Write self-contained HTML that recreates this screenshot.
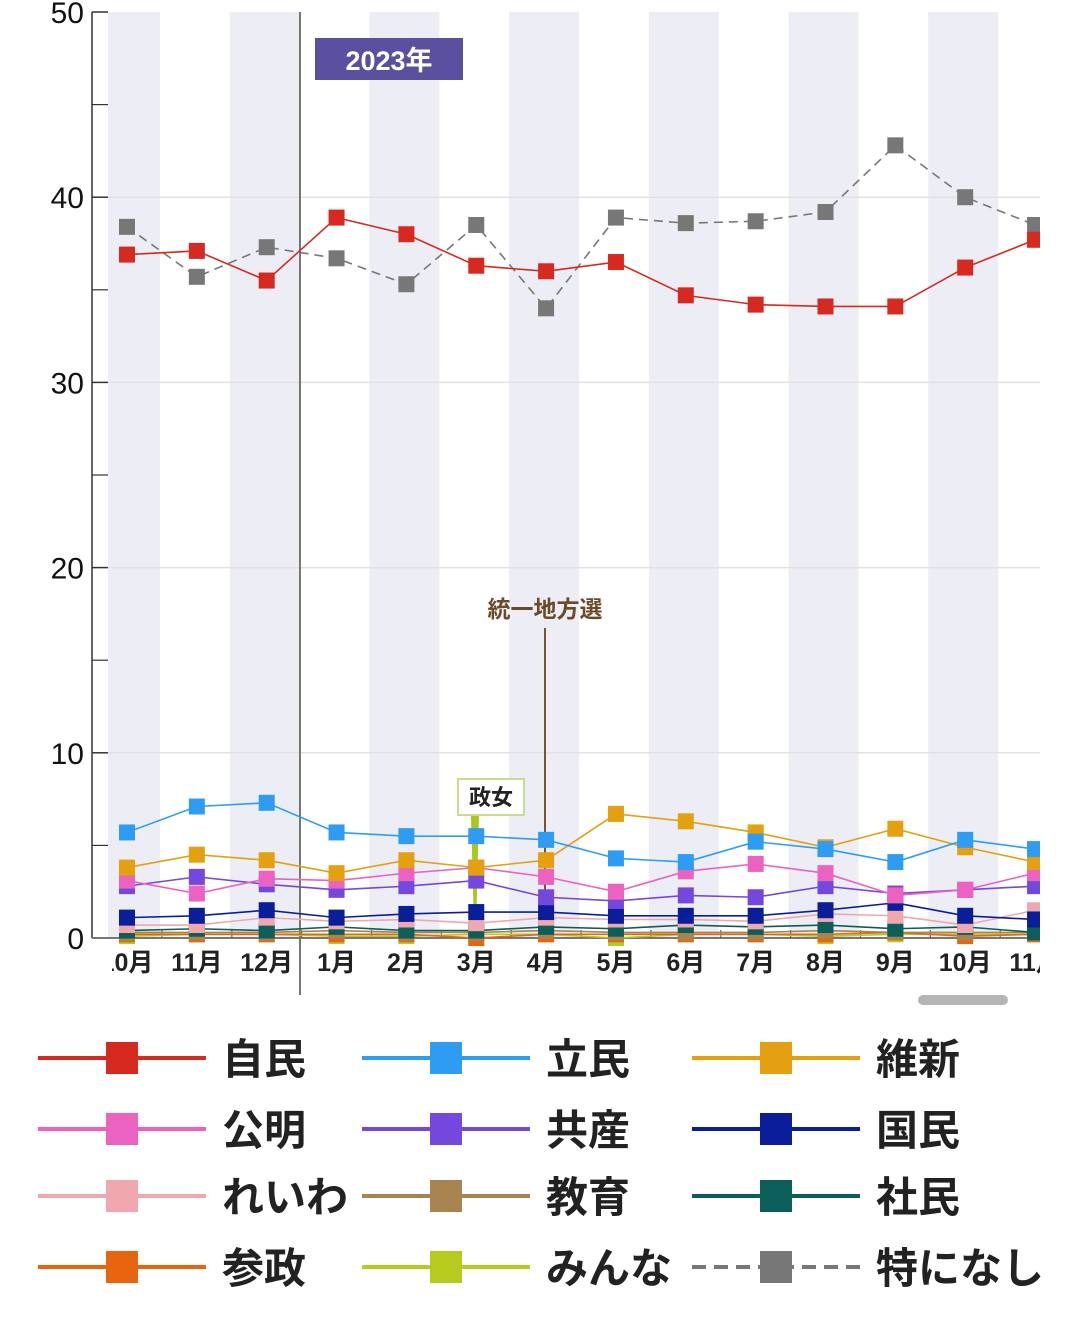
<!DOCTYPE html>
<html><head><meta charset="utf-8">
<style>
html,body{margin:0;padding:0;background:#fff;}
body{width:1080px;height:1316px;overflow:hidden;font-family:"Liberation Sans","Noto Sans CJK JP",sans-serif;}
svg text{font-family:"Liberation Sans","Noto Sans CJK JP",sans-serif;}
</style></head>
<body>
<svg id="chart" width="1080" height="1316" xmlns="http://www.w3.org/2000/svg">
  <defs><clipPath id="plotclip"><rect x="108" y="0" width="932" height="1000"/></clipPath>
  <clipPath id="labelclip"><rect x="112" y="930" width="928" height="60"/></clipPath></defs>
  <g id="bands" clip-path="url(#plotclip)"></g>
  <g id="grid"></g>
  <g id="axis"></g>
  <g id="annot"></g>
  <g id="series" clip-path="url(#plotclip)"></g>
  <g id="xlabels" clip-path="url(#labelclip)"></g>
  <rect x="918" y="995" width="90" height="10" rx="5" fill="#b5b5b5"/>
  <g id="legend"></g>
</svg>
<script>
const categories=["10月","11月","12月","1月","2月","3月","4月","5月","6月","7月","8月","9月","10月","11月"];
const yTicks=[0,10,20,30,40,50];
const jimin=[36.9,37.1,35.5,38.9,38.0,36.3,36.0,36.5,34.7,34.2,34.1,34.1,36.2,37.7];
const nashi=[38.4,35.7,37.3,36.7,35.3,38.5,34.0,38.9,38.6,38.7,39.2,42.8,40.0,38.5];
const rikken=[5.7,7.1,7.3,5.7,5.5,5.5,5.3,4.3,4.1,5.2,4.8,4.1,5.3,4.8];
const ishin=[3.8,4.5,4.2,3.5,4.2,3.8,4.2,6.7,6.3,5.7,4.9,5.9,4.9,4.1];
const komei=[3.1,2.4,3.2,3.1,3.5,3.8,3.3,2.5,3.6,4.0,3.5,2.3,2.6,3.5];
const kyosan=[2.8,3.3,2.9,2.6,2.8,3.1,2.2,2.0,2.3,2.2,2.8,2.4,2.6,2.8];
const kokumin=[1.1,1.2,1.5,1.1,1.3,1.4,1.4,1.2,1.2,1.2,1.5,1.9,1.2,1.0];
const reiwa=[0.7,0.7,1.1,0.9,1.0,0.8,1.1,1.0,1.0,0.9,1.3,1.2,0.7,1.5];
const kyoiku=[0.3,0.3,0.3,0.4,0.3,0.3,0.4,0.3,0.3,0.3,0.4,0.3,0.3,0.3];
const shamin=[0.4,0.5,0.4,0.6,0.4,0.4,0.6,0.5,0.7,0.6,0.7,0.5,0.6,0.3];
const sansei=[0.2,0.2,0.2,0.2,0.2,0.0,0.2,0.2,0.2,0.2,0.2,0.3,0.1,0.2];
const minna=[0.1,0.2,0.2,0.1,0.1,0.2,0.2,0.0,0.2,0.2,0.1,0.2,0.2,0.2];

const NS="http://www.w3.org/2000/svg";
function X(i){return 127+i*69.85;}
function Y(v){return 938-v*18.52;}
function mk(tag,attrs,parent){const e=document.createElementNS(NS,tag);for(const k in attrs)e.setAttribute(k,attrs[k]);parent.appendChild(e);return e;}

const bands=document.getElementById('bands');
categories.forEach((c,i)=>{if(i%2===0){const r=mk('rect',{x:X(i)-37,y:12,width:70,height:926,fill:'#ededf5'},bands);

}});

const grid=document.getElementById('grid');
const axis=document.getElementById('axis');
yTicks.forEach(t=>{
  if(t>0&&t<50){const g=mk('line',{x1:108,x2:1040,y1:Y(t),y2:Y(t),stroke:'#e2e2e2','stroke-width':1.5},grid);
  
  }
  mk('line',{x1:92,x2:108,y1:Y(t),y2:Y(t),stroke:'#333','stroke-width':1.5},axis);
  const tx=mk('text',{x:84,y:Y(t)+11,'text-anchor':'end','font-size':30,fill:'#111'},axis);
  tx.textContent=t;
  
  
});
for(let t=5;t<50;t+=10){mk('line',{x1:92,x2:108,y1:Y(t),y2:Y(t),stroke:'#333','stroke-width':1.2},axis);}
const yax=mk('line',{x1:92,x2:92,y1:12,y2:938,stroke:'#333','stroke-width':1.5},axis);


const xax=mk('line',{x1:92,x2:1040,y1:938,y2:938,stroke:'#777','stroke-width':2},axis);


categories.forEach((c,i)=>{if(X(i)+35<1040)mk('line',{x1:X(i)+35,x2:X(i)+35,y1:930,y2:938,stroke:'#666','stroke-width':1.2},axis);});

const xl=document.getElementById('xlabels');
categories.forEach((c,i)=>{const t=mk('text',{x:X(i),y:971,'text-anchor':'middle','font-size':25,'font-weight':'bold',fill:'#222'},xl);
t.textContent=c;

});

const an=document.getElementById('annot');
const yl=mk('line',{x1:300,x2:300,y1:12,y2:995,stroke:'#777','stroke-width':2},an);


const yb=mk('rect',{x:315,y:38,width:148,height:42,fill:'#5b4fa0'},an);


const yt=mk('text',{x:389,y:70,'text-anchor':'middle','font-size':27,'font-weight':'bold',fill:'#fff'},an);
yt.textContent='2023年';


mk('line',{x1:545,x2:545,y1:628,y2:905,stroke:'#7a5430','stroke-width':2},an);
const el=mk('text',{x:545,y:617,'text-anchor':'middle','font-size':23,'font-weight':'bold',fill:'#6b4a2a'},an);
el.textContent='統一地方選';


mk('polygon',{points:'471,815 479,815 476,930 474,930',fill:'#a8c820'},an);
const sb=mk('rect',{x:458,y:779,width:66,height:36,fill:'#fff',stroke:'#c8dc90','stroke-width':2},an);


const st=mk('text',{x:491,y:805,'text-anchor':'middle','font-size':22,'font-weight':'bold',fill:'#222'},an);
st.textContent='政女';



const seriesList=[
 ['minna',minna,'#b5cc1e',false],['sansei',sansei,'#e8650f',false],['kyoiku',kyoiku,'#a88550',false],
 ['shamin',shamin,'#0c5e5a',false],['reiwa',reiwa,'#f0a8ae',false],['kokumin',kokumin,'#0a1e9a',false],
 ['kyosan',kyosan,'#7448dc',false],['komei',komei,'#ec62c0',false],['ishin',ishin,'#e3a010',false],
 ['rikken',rikken,'#2e9cf2',false],['nashi',nashi,'#777777',true],['jimin',jimin,'#d62a20',false]];
const sg=document.getElementById('series');
seriesList.forEach(([name,vals,col,dash])=>{
  const g=mk('g',{},sg);
  
  
  const pts=vals.map((v,i)=>X(i)+','+Y(v)).join(' ');
  const attrs={points:pts,fill:'none',stroke:col,'stroke-width':1.6};
  if(dash)attrs['stroke-dasharray']='9,6';
  mk('polyline',attrs,g);
  vals.forEach((v,i)=>{const r=mk('rect',{x:X(i)-8,y:Y(v)-8,width:16,height:16,fill:col},g);
  
  });
});

const legendItems=[['自民','#d62a20',false],['立民','#2e9cf2',false],['維新','#e3a010',false],
 ['公明','#ec62c0',false],['共産','#7448dc',false],['国民','#0a1e9a',false],
 ['れいわ','#f0a8ae',false],['教育','#a88550',false],['社民','#0c5e5a',false],
 ['参政','#e8650f',false],['みんな','#b5cc1e',false],['特になし','#777777',true]];
const rowsY=[1058,1129,1196,1267];const colX=[38,362,692];
const lg=document.getElementById('legend');
legendItems.forEach(([label,col,dash],k)=>{
  const r=Math.floor(k/3),c=k%3;const x0=colX[c],y0=rowsY[r];
  const g=mk('g',{},lg);
  
  
  const la={x1:x0,x2:x0+168,y1:y0,y2:y0,stroke:col,'stroke-width':4};
  if(dash)la['stroke-dasharray']='14,8';
  mk('line',la,g);
  mk('rect',{x:x0+68,y:y0-16,width:32,height:32,fill:col},g);
  const t=mk('text',{x:x0+184,y:y0+16,'font-size':42,'font-weight':'bold',fill:'#222'},g);
  t.textContent=label;
});
</script>
</body></html>
